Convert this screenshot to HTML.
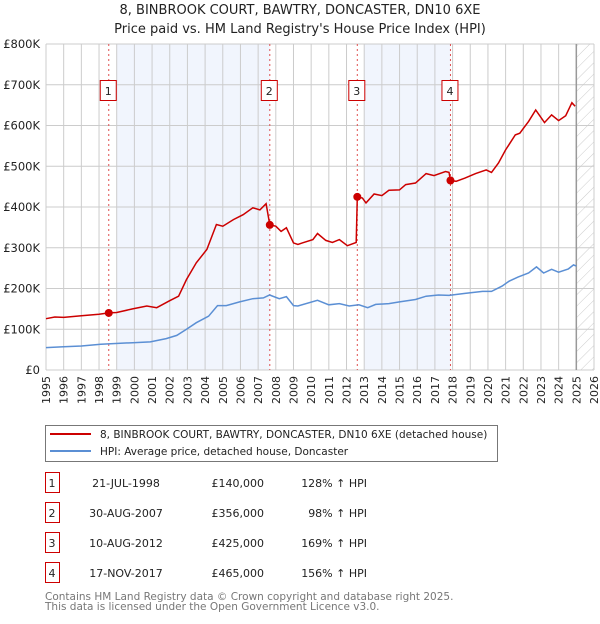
<!DOCTYPE html>
<html><head><meta charset="utf-8"><style>
body{margin:0;background:#fff;font-family:"DejaVu Sans","Liberation Sans",sans-serif;}
svg text{font-family:"DejaVu Sans","Liberation Sans",sans-serif;}
</style></head><body>
<svg id="c" width="600" height="620" xmlns="http://www.w3.org/2000/svg">
<defs><pattern id="hatch" width="8" height="8" patternUnits="userSpaceOnUse" patternTransform="rotate(45)"><line x1="0" y1="0" x2="0" y2="8" stroke="#ccc" stroke-width="1"/></pattern></defs>
<text x="300" y="14" text-anchor="middle" font-size="13" fill="#222">8, BINBROOK COURT, BAWTRY, DONCASTER, DN10 6XE</text>
<text x="300" y="33" text-anchor="middle" font-size="13" fill="#222">Price paid vs. HM Land Registry's House Price Index (HPI)</text>
<g id="plot"></g>
<g>
<rect x="45.5" y="425.5" width="452" height="36" fill="#fff" stroke="#777"/>
<line x1="50" y1="434" x2="91" y2="434" stroke="#cc0000" stroke-width="2"/>
<text x="100" y="438" font-size="10.5" fill="#222">8, BINBROOK COURT, BAWTRY, DONCASTER, DN10 6XE (detached house)</text>
<line x1="50" y1="451" x2="91" y2="451" stroke="#5b8fd4" stroke-width="2"/>
<text x="100" y="455" font-size="10.5" fill="#222">HPI: Average price, detached house, Doncaster</text>
</g>
<g id="table" font-size="11" fill="#222"></g>
<text x="45" y="600" font-size="10.5" fill="#777">Contains HM Land Registry data © Crown copyright and database right 2025.</text>
<text x="45" y="610" font-size="10.5" fill="#777">This data is licensed under the Open Government Licence v3.0.</text>
</svg>
<script>
const yTicks=[0,100,200,300,400,500,600,700,800];
const yTickLabels=["£0","£100K","£200K","£300K","£400K","£500K","£600K","£700K","£800K"];
const years=[1995,1996,1997,1998,1999,2000,2001,2002,2003,2004,2005,2006,2007,2008,2009,2010,2011,2012,2013,2014,2015,2016,2017,2018,2019,2020,2021,2022,2023,2024,2025,2026];
const saleDates=[1998.55,2007.66,2012.61,2017.88];
const salePrices=[140,356,425,465];
const saleLabels=["21-JUL-1998","30-AUG-2007","10-AUG-2012","17-NOV-2017"];
const salePriceText=["£140,000","£356,000","£425,000","£465,000"];
const saleHpiText=["128% ↑ HPI","98% ↑ HPI","169% ↑ HPI","156% ↑ HPI"];
const redT=[1995,1995.5,1996,1997,1998,1998.55,1999,1999.9,2000.7,2001.26,2002,2002.5,2002.95,2003.5,2004.1,2004.64,2005,2005.6,2006.15,2006.7,2007.1,2007.45,2007.66,2008,2008.3,2008.6,2009,2009.25,2009.5,2010.1,2010.36,2010.83,2011.2,2011.6,2012.05,2012.55,2012.61,2012.9,2013.1,2013.56,2014,2014.4,2015,2015.35,2015.9,2016.5,2016.95,2017.6,2017.8,2017.88,2018.2,2018.7,2019.3,2019.9,2020.2,2020.6,2021,2021.55,2021.8,2022.3,2022.7,2023.2,2023.6,2024,2024.4,2024.75,2024.93];
const redV=[126,130,129,133,137,140,141,150,157,153,170,181,222,263,296,357,353,369,381,398,393,408,356,353,340,349,312,308,312,320,335,318,313,320,305,313,425,422,410,432,428,441,442,455,459,482,477,487,485,465,463,471,482,491,485,508,540,577,581,610,638,607,626,612,624,656,647];
const hpiT=[1995,1996,1997,1998.1,1999.9,2000.9,2001.8,2002.4,2002.95,2003.5,2004.2,2004.7,2005.2,2005.95,2006.7,2007.3,2007.65,2008.2,2008.6,2009,2009.25,2010.36,2011,2011.6,2012.15,2012.7,2013.2,2013.65,2014.4,2015,2015.9,2016.5,2017.2,2017.8,2018.7,2019.7,2020.2,2020.8,2021.2,2021.7,2022.3,2022.75,2023.15,2023.6,2024,2024.55,2024.84,2025];
const hpiV=[55,57,59,63,67,69,77,85,100,116,132,158,158,167,175,177,184,175,180,158,157,171,160,163,157,160,153,161,163,167,173,181,184,183,188,193,193,206,218,228,238,253,238,247,240,248,258,255];

const NS="http://www.w3.org/2000/svg";
const X0=46,X1=594,Y0=370,Y1=44;
function xs(t){return X0+(t-1995)*(X1-X0)/31;}
function ys(v){return Y0-v*(Y0-Y1)/800;}
const plot=document.getElementById('plot');
function mk(tag,attrs,parent){const e=document.createElementNS(NS,tag);for(const k in attrs)e.setAttribute(k,attrs[k]);(parent||plot).appendChild(e);return e;}

let s1=mk('rect',{x:xs(1999),y:Y1,width:xs(saleDates[1])-xs(1999),height:Y0-Y1,fill:'#eef3fc',opacity:0.8});


let s2=mk('rect',{x:xs(2013),y:Y1,width:xs(saleDates[3])-xs(2013),height:Y0-Y1,fill:'#eef3fc',opacity:0.8});


let hz=mk('rect',{x:xs(2025),y:Y1,width:X1-xs(2025),height:Y0-Y1,fill:'url(#hatch)'});



years.forEach(y=>{
 const l=mk('line',{x1:xs(y),x2:xs(y),y1:Y1,y2:Y0,stroke:'#ccc','stroke-width':1});
 
 
 const t=mk('text',{x:0,y:0,'font-size':11,fill:'#222','text-anchor':'end',transform:`translate(${xs(y)+4},${Y0+6}) rotate(-90)`});
 t.textContent=y;
 
 
});
yTicks.forEach((v,i)=>{
 const l=mk('line',{x1:X0,x2:X1,y1:ys(v),y2:ys(v),stroke:'#ccc','stroke-width':1});
 
 
 const t=mk('text',{x:X0-6,y:ys(v)+4,'font-size':11.5,fill:'#222','text-anchor':'end'});
 t.textContent=yTickLabels[i];
 
 
});
let nl=mk('line',{x1:xs(2025),x2:xs(2025),y1:Y1,y2:Y0,stroke:'#999','stroke-width':1.5});



saleDates.forEach((d,i)=>{
 const l=mk('line',{x1:xs(d),x2:xs(d),y1:Y1,y2:Y0,stroke:'#e05050','stroke-width':1,'stroke-dasharray':'2,3'});
 
 
 const r=mk('rect',{x:xs(d)-8.5,y:80.5,width:16,height:20,fill:'#fff',stroke:'#cc0000'});
 
 
 const t=mk('text',{x:xs(d)-0.5,y:95,'font-size':11,fill:'#222','text-anchor':'middle'});
 t.textContent=i+1;
 
 
});

function pathOf(T,V){return T.map((t,i)=>(i?'L':'M')+xs(t).toFixed(1)+','+ys(V[i]).toFixed(1)).join('');}
let hp=mk('path',{d:pathOf(hpiT,hpiV),fill:'none',stroke:'#5b8fd4','stroke-width':1.5});


let rp=mk('path',{d:pathOf(redT,redV),fill:'none',stroke:'#cc0000','stroke-width':1.5});


saleDates.forEach((d,i)=>{
 const c=mk('circle',{cx:xs(d),cy:ys(salePrices[i]),r:4,fill:'#cc0000'});
 
 
});

const tb=document.getElementById('table');
saleDates.forEach((d,i)=>{
 const cy=483+i*30;
 const r=mk('rect',{x:45.5,y:cy-10.5,width:14,height:20,fill:'none',stroke:'#cc0000'},tb);
 
 
 const vals=[[String(i+1),52,'middle'],[saleLabels[i],126,'middle'],[salePriceText[i],264,'end'],[saleHpiText[i],367,'end']];
 vals.forEach(v=>{
  const t=mk('text',{x:v[1],y:cy+4,'text-anchor':v[2]},tb);
  t.textContent=v[0];
  
  
 });
});
</script>
</body></html>
